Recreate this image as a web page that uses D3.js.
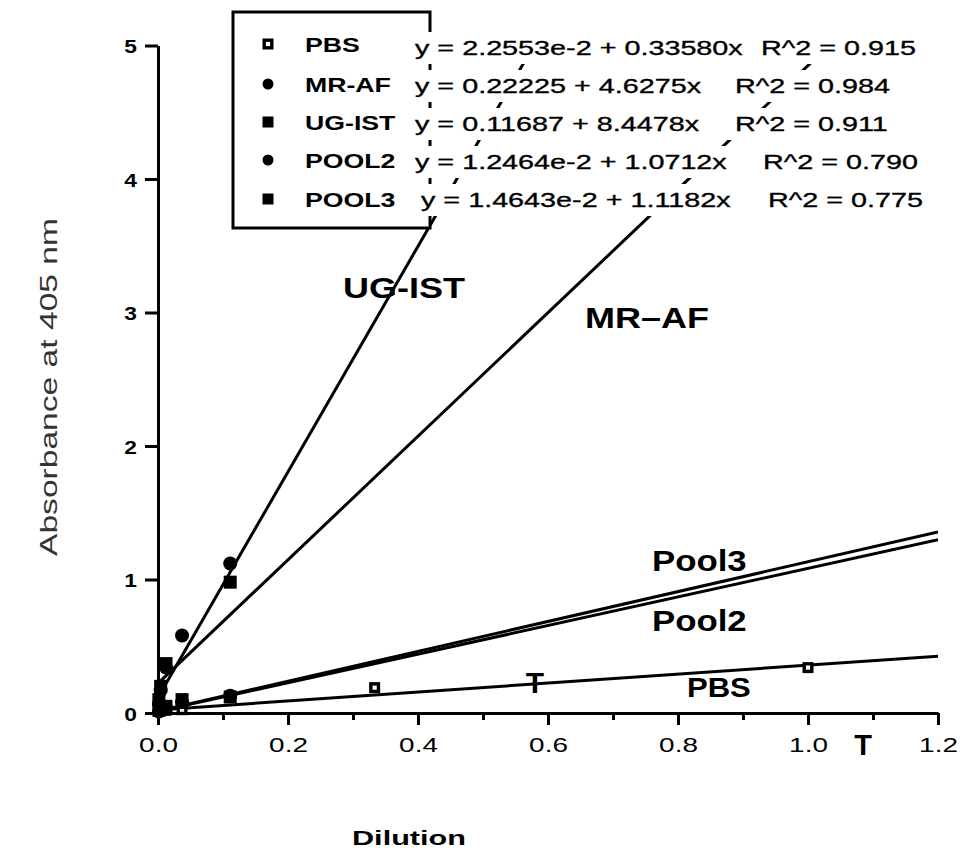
<!DOCTYPE html>
<html>
<head>
<meta charset="utf-8">
<script src="https://cdn.jsdelivr.net/npm/d3@7"></script>
<style>
  body { margin: 0; background: #fff; }
  svg { display: block; }
  text { font-family: "Liberation Sans", Arial, Helvetica, sans-serif; fill: #000; }
</style>
</head>
<body>
<svg id="chart" width="964" height="853"></svg>
<script>
// legend order
const seriesNames = ['PBS', 'MR-AF', 'UG-IST', 'POOL2', 'POOL3'];
const seriesSymbols = ['openSquare', 'circle', 'square', 'circle', 'square'];

// regression fits as printed on the chart
const intercepts = [2.2553e-2, 0.22225, 0.11687, 1.2464e-2, 1.4643e-2];
const slopes = [0.33580, 4.6275, 8.4478, 1.0712, 1.1182];
const eqLabels = [
  'y = 2.2553e-2 + 0.33580x',
  'y = 0.22225 + 4.6275x',
  'y = 0.11687 + 8.4478x',
  'y = 1.2464e-2 + 1.0712x',
  'y = 1.4643e-2 + 1.1182x'
];
const r2Labels = ['R^2 = 0.915', 'R^2 = 0.984', 'R^2 = 0.911', 'R^2 = 0.790', 'R^2 = 0.775'];

const pbsPoints   = [[0.0123, 0.02], [0.037, 0.025], [0.3333, 0.19], [1.0, 0.34]];
const mrafPoints  = [[0.00137, 0.07], [0.0041, 0.17], [0.0123, 0.34], [0.037, 0.58], [0.1111, 1.12]];
const ugistPoints = [[0.00137, 0.10], [0.0041, 0.20], [0.0123, 0.37], [0.1111, 0.98]];
const pool2Points = [[0.00137, 0.01], [0.0041, 0.02], [0.0123, 0.04], [0.037, 0.08], [0.1111, 0.13]];
const pool3Points = [[0.00137, 0.02], [0.0041, 0.03], [0.0123, 0.05], [0.037, 0.10], [0.1111, 0.12]];
const seriesPoints = [pbsPoints, mrafPoints, ugistPoints, pool2Points, pool3Points];

// axes
const xTickValues = [0, 0.2, 0.4, 0.6, 0.8, 1.0, 1.2];
const xTickLabels = ['0.0', '0.2', '0.4', '0.6', '0.8', '1.0', '1.2'];
const xMinorTicks = [0.1, 0.3, 0.5, 0.7, 0.9, 1.1];
const yTickValues = [0, 1, 2, 3, 4, 5];
const yTickLabels = ['0', '1', '2', '3', '4', '5'];
const xTitle = 'Dilution';
const yTitle = 'Absorbance at 405 nm';

// labels written next to the fit lines
const lineLabels = ['UG-IST', 'MR\u2013AF', 'Pool3', 'Pool2', 'PBS'];

(function () {
  const svg = d3.select('#chart');

  const x = d3.scaleLinear().domain([0, 1.2]).range([158, 938]);
  const y = d3.scaleLinear().domain([0, 5]).range([713, 45.5]);

  // clip for fit lines
  svg.append('defs').append('clipPath').attr('id', 'plotclip')
    .append('rect').attr('x', 158).attr('y', 45).attr('width', 780).attr('height', 668);

  // the scanned typeface is wider than Arial, so text gets stretched sideways
  function wideText(g, tx, ty, str, size, sx, bold) {
    return g.append('text')
      .attr('transform', `translate(${tx},${ty}) scale(${sx},1)`)
      .style('font-size', size + 'px')
      .style('font-weight', bold ? 'bold' : 'normal')
      .text(str);
  }

  // --- axes
  const xAxisG = svg.append('g').attr('transform', 'translate(0,713)')
    .call(d3.axisBottom(x).tickValues(xTickValues).tickFormat((d, i) => xTickLabels[i]).tickSize(12).tickSizeOuter(0));
  xAxisG.selectAll('text')
    .attr('y', null).attr('dy', null)
    .attr('transform', 'translate(0,39) scale(1.33,1)')
    .attr('text-anchor', 'middle')
    .style('font-size', '21px');

  const xMinorG = svg.append('g').attr('transform', 'translate(0,713)')
    .call(d3.axisBottom(x).tickValues(xMinorTicks).tickFormat('').tickSize(7).tickSizeOuter(0));
  xMinorG.select('.domain').remove();

  const yAxisG = svg.append('g').attr('transform', 'translate(158,0)')
    .call(d3.axisLeft(y).tickValues(yTickValues).tickFormat((d, i) => yTickLabels[i]).tickSize(13).tickSizeOuter(0));
  yAxisG.selectAll('text')
    .attr('x', null).attr('dy', null)
    .attr('transform', 'translate(-21,7) scale(1.2,1)')
    .attr('text-anchor', 'end')
    .style('font-size', '19px').style('font-weight', 'bold');

  svg.selectAll('.domain, .tick line').attr('stroke', '#000').attr('stroke-width', 3);

  // --- fit lines
  const line = d3.line().x(d => x(d[0])).y(d => y(d[1]));
  const linesG = svg.append('g').attr('clip-path', 'url(#plotclip)');
  seriesNames.forEach((name, i) => {
    const pts = x.domain().map(v => [v, intercepts[i] + slopes[i] * v]);
    linesG.append('path').attr('d', line(pts))
      .attr('fill', 'none').attr('stroke', '#000').attr('stroke-width', 3);
  });

  // --- points
  function drawSymbol(g, kind, cx, cy, big) {
    const s = big ? 13 : 11;
    if (kind === 'circle') {
      g.append('circle').attr('cx', cx).attr('cy', cy).attr('r', big ? 7 : 5.5).attr('fill', '#000');
    } else if (kind === 'square') {
      g.append('rect').attr('x', cx - s / 2).attr('y', cy - s / 2).attr('width', s).attr('height', s).attr('fill', '#000');
    } else {
      g.append('rect').attr('x', cx - 3.8).attr('y', cy - 3.8).attr('width', 7.6).attr('height', 7.6)
        .attr('fill', '#fff').attr('stroke', '#000').attr('stroke-width', 3.4);
    }
  }
  const ptsG = svg.append('g');
  seriesPoints.forEach((pts, i) => {
    pts.forEach(p => drawSymbol(ptsG, seriesSymbols[i], x(p[0]), y(p[1]), true));
  });

  // --- legend box
  const legG = svg.append('g');
  legG.append('rect').attr('x', 233).attr('y', 12).attr('width', 197).attr('height', 216)
    .attr('fill', '#fff').attr('stroke', '#000').attr('stroke-width', 3);
  const legRowY = [44, 84, 122, 160, 199];
  seriesNames.forEach((name, i) => {
    drawSymbol(legG, seriesSymbols[i], 268, legRowY[i], false);
    wideText(legG, 305, legRowY[i] + 8, name, 21, 1.27, true);
  });

  // --- equation rows, each on its own white box
  const eqX = [415, 415, 415, 415, 421];
  const r2X = [761, 735, 735, 763, 768];
  const eqBase = [55, 93, 131, 169, 207];
  eqLabels.forEach((lbl, i) => {
    const row = svg.append('g');
    const bg = row.append('rect').attr('fill', '#fff');
    wideText(row, eqX[i], eqBase[i], lbl, 21, 1.37, false)
      .style('stroke', '#000').style('stroke-width', 0.35);
    const t2 = wideText(row, r2X[i], eqBase[i], r2Labels[i], 21, 1.37, false)
      .style('stroke', '#000').style('stroke-width', 0.35);
    const w = t2.node().getComputedTextLength() * 1.37;
    bg.attr('x', eqX[i] - 3).attr('y', eqBase[i] - 23)
      .attr('width', r2X[i] + w - eqX[i] + 6).attr('height', 32);
  });

  // --- line labels
  const annot = [
    { x: 343, y: 298, size: 30, sx: 1.2 },
    { x: 585, y: 328, size: 30, sx: 1.2 },
    { x: 652, y: 571, size: 29, sx: 1.2 },
    { x: 652, y: 631, size: 29, sx: 1.2 },
    { x: 687, y: 697, size: 27, sx: 1.15 }
  ];
  lineLabels.forEach((lbl, i) => {
    wideText(svg, annot[i].x, annot[i].y, lbl, annot[i].size, annot[i].sx, true);
  });

  // stray "T" marks in the figure
  svg.append('text').attr('x', 535).attr('y', 693).attr('text-anchor', 'middle')
    .style('font-size', '30px').style('font-weight', 'bold').text('T');
  svg.append('text').attr('x', 863).attr('y', 755).attr('text-anchor', 'middle')
    .style('font-size', '29px').style('font-weight', 'bold').text('T');

  // --- axis titles
  svg.append('text')
    .attr('x', 409).attr('y', 845).attr('text-anchor', 'middle')
    .attr('textLength', 114).attr('lengthAdjust', 'spacingAndGlyphs')
    .style('font-size', '20px').style('font-weight', 'bold')
    .text(xTitle);

  svg.append('text')
    .attr('transform', 'translate(57,387) rotate(-90) scale(1.4,1)')
    .attr('text-anchor', 'middle')
    .style('font-size', '24px').style('fill', '#333')
    .text(yTitle);
})();
</script>
</body>
</html>
